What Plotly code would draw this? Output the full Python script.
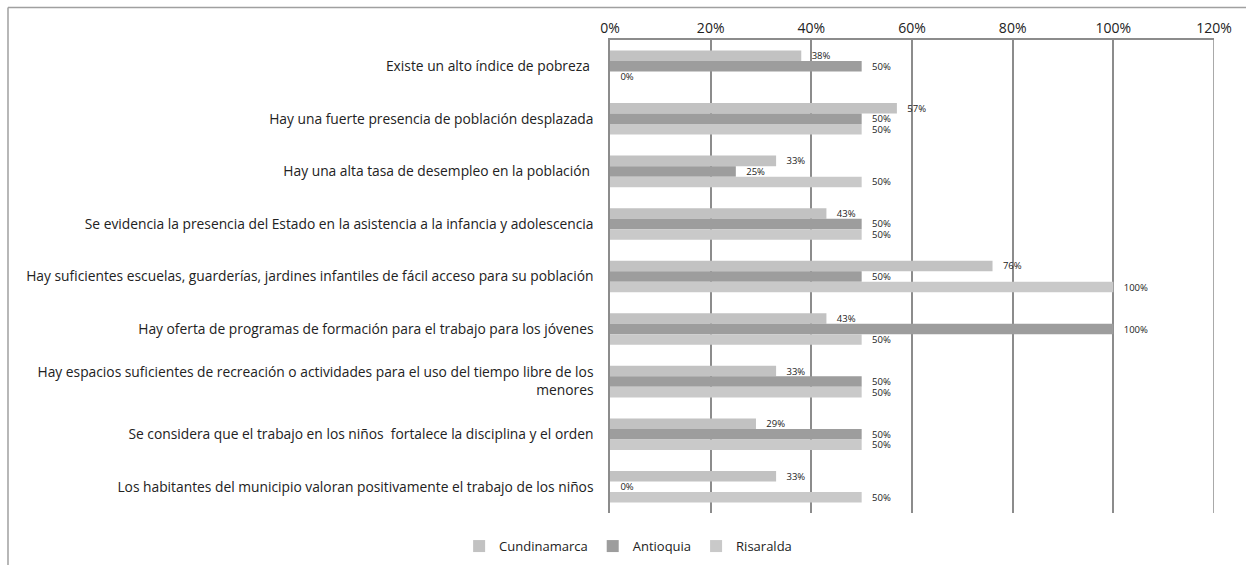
import plotly.graph_objects as go

categories = [
    "Existe un alto índice de pobreza ",
    "Hay una fuerte presencia de población desplazada",
    "Hay una alta tasa de desempleo en la población ",
    "Se evidencia la presencia del Estado en la asistencia a la infancia y adolescencia",
    "Hay suficientes escuelas, guarderías, jardines infantiles de fácil acceso para su población",
    "Hay oferta de programas de formación para el trabajo para los jóvenes",
    "Hay espacios suficientes de recreación o actividades para el uso del tiempo libre de los<br>menores",
    "Se considera que el trabajo en los niños  fortalece la disciplina y el orden",
    "Los habitantes del municipio valoran positivamente el trabajo de los niños",
]

cundinamarca = [38, 57, 33, 43, 76, 43, 33, 29, 33]
antioquia = [50, 50, 25, 50, 50, 100, 50, 50, 0]
risaralda = [0, 50, 50, 50, 100, 50, 50, 50, 50]

series = [
    ("Cundinamarca", cundinamarca, "#C2C2C2"),
    ("Antioquia", antioquia, "#9D9D9D"),
    ("Risaralda", risaralda, "#C9C9C9"),
]

FONT = "'Open Sans', 'Noto Sans', sans-serif"

fig = go.Figure()
for name, vals, color in series:
    fig.add_trace(go.Bar(
        y=categories,
        x=vals,
        name=name,
        orientation="h",
        marker=dict(color=color, line=dict(width=0)),
        text=[f"   {v}%" for v in vals],
        textposition="outside",
        constraintext="none",
        textfont=dict(size=9.5, color="#222222", family=FONT),
        cliponaxis=False,
    ))

fig.update_layout(
    width=1246,
    height=573,
    margin=dict(l=610, r=32, t=40, b=51),
    plot_bgcolor="white",
    paper_bgcolor="white",
    barmode="group",
    bargap=0.4,
    bargroupgap=0,
    font=dict(family=FONT, color="#222222"),
    legend=dict(
        orientation="h",
        x=0.03, y=-0.07,
        xanchor="center", yanchor="middle",
        font=dict(size=13, family=FONT, color="#222222"),
        itemwidth=30,
        traceorder="normal",
    ),
)

fig.update_xaxes(
    side="top",
    range=[0, 120],
    dtick=20,
    ticksuffix="%",
    showgrid=True,
    gridcolor="#8C8C8C",
    gridwidth=1.5,
    showline=True,
    linecolor="#8C8C8C",
    linewidth=1.5,
    zeroline=False,
    ticks="",
    tickfont=dict(size=14, family=FONT, color="#222222"),
    fixedrange=True,
)
fig.update_yaxes(
    autorange="reversed",
    showline=True,
    linecolor="#8C8C8C",
    linewidth=1.5,
    showgrid=False,
    ticks="",
    ticklabelstandoff=12,
    tickfont=dict(size=13.8, family=FONT, color="#222222"),
)

# right edge of plot area (120% gridline)
fig.add_shape(type="line", xref="x", yref="paper", x0=120, x1=120, y0=0, y1=1,
              line=dict(color="#8C8C8C", width=1.5))

# outer chart frame (left and top edges)
fig.add_shape(type="line", xref="paper", yref="paper",
              x0=-0.9967, x1=-0.9967, y0=-0.11, y1=1.0685,
              line=dict(color="#A0A0A0", width=1.5))
fig.add_shape(type="line", xref="paper", yref="paper",
              x0=-0.9967, x1=1.06, y0=1.0685, y1=1.0685,
              line=dict(color="#A0A0A0", width=1.5))

fig.write_html("out.html")
